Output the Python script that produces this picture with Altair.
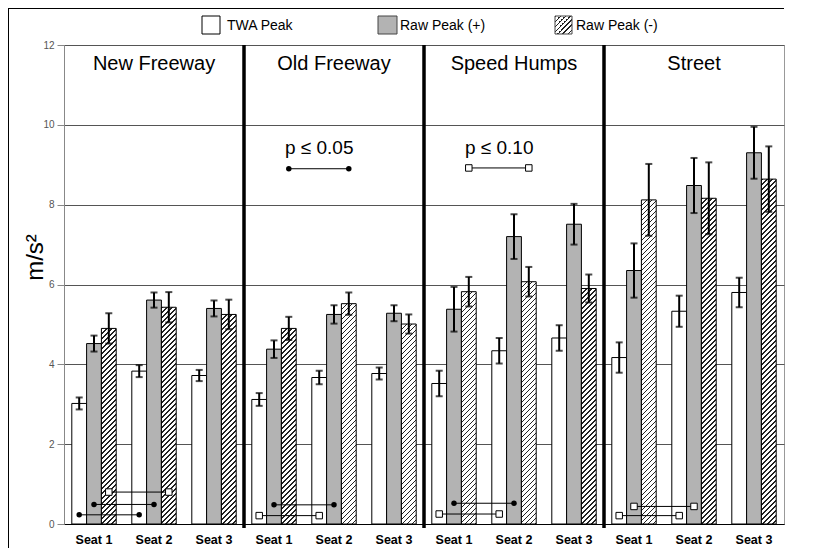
import altair as alt
import pandas as pd

# ---------------- data ----------------
panels = ["New Freeway", "Old Freeway", "Speed Humps", "Street"]
seats = ["Seat 1", "Seat 2", "Seat 3"]
series = ["TWA Peak", "Raw Peak (+)", "Raw Peak (-)"]

twa      = [3.02, 3.83, 3.72, 3.12, 3.67, 3.77, 3.52, 4.34, 4.66, 4.17, 5.33, 5.80]
twa_err  = [0.15, 0.15, 0.14, 0.16, 0.17, 0.15, 0.32, 0.32, 0.32, 0.38, 0.39, 0.37]
rawp     = [4.52, 5.61, 5.40, 4.38, 5.25, 5.28, 5.38, 7.20, 7.51, 6.35, 8.48, 9.30]
rawp_err = [0.20, 0.19, 0.20, 0.22, 0.23, 0.20, 0.56, 0.56, 0.51, 0.68, 0.69, 0.65]
rawn     = [4.90, 5.43, 5.25, 4.90, 5.52, 5.01, 5.82, 6.07, 5.90, 8.12, 8.16, 8.64]
rawn_err = [0.38, 0.38, 0.37, 0.29, 0.28, 0.24, 0.37, 0.37, 0.35, 0.90, 0.90, 0.82]

# significance brackets: (id, panel, series, y, marker) spanning Seat 1 -> Seat 2
br_id     = ["nf1", "nf2", "nf3", "of1", "of2", "sh1", "sh2", "st1", "st2", "oft", "sht"]
br_panel  = ["New Freeway", "New Freeway", "New Freeway", "Old Freeway", "Old Freeway",
             "Speed Humps", "Speed Humps", "Street", "Street", "Old Freeway", "Speed Humps"]
br_series = ["Raw Peak (-)", "Raw Peak (+)", "TWA Peak", "Raw Peak (+)", "TWA Peak",
             "Raw Peak (+)", "TWA Peak", "Raw Peak (+)", "TWA Peak", "Raw Peak (-)", "Raw Peak (-)"]
br_y      = [0.80, 0.49, 0.23, 0.48, 0.21, 0.52, 0.25, 0.44, 0.21, 8.90, 8.92]
br_marker = ["square", "dot", "dot", "dot", "square", "dot", "square", "square", "square", "dot", "square"]

ptext_panel = ["Old Freeway", "Speed Humps"]
ptext_label = ["p ≤ 0.05", "p ≤ 0.10"]
ptext_y = [9.26, 9.26]
title_y = 11.37
y_ticks = [0, 2, 4, 6, 8, 10, 12]

# ---------------- layout constants ----------------
W, H = 720, 479
PX = H / 12.0
P_IN, P_OUT = 0.26, 0.13
step = W / (12 - P_IN + 2 * P_OUT)
BAR_W = step * (1 - P_IN) / 3
FONT = "Liberation Sans"

def hatch(w, h, period=5.0, frac=0.3):
    k = (w + h) / (w * w + h * h)
    n = (w + h) / period
    stops = []
    j = 0
    while j < n:
        a = min(j / n, 1.0)
        b = min((j + frac) / n, 1.0)
        c = min((j + 1) / n, 1.0)
        stops += [{"offset": a, "color": "#222"}, {"offset": b, "color": "#222"},
                  {"offset": b, "color": "white"}, {"offset": c, "color": "white"}]
        j += 1
    return {"gradient": "linear", "x1": 0, "y1": 0, "x2": w * k, "y2": h * k, "stops": stops}

grp_order = [f"{p}|{s}" for p in panels for s in seats]
rows = []
for i, g in enumerate(grp_order):
    for name, vals, errs in [(series[0], twa, twa_err), (series[1], rawp, rawp_err), (series[2], rawn, rawn_err)]:
        rows.append(dict(grp=g, series=name, value=vals[i], lo=vals[i] - errs[i], hi=vals[i] + errs[i]))
df = pd.DataFrame(rows)

br_rows = []
for bid, p, s, yv, m in zip(br_id, br_panel, br_series, br_y, br_marker):
    for seat in ["Seat 1", "Seat 2"]:
        br_rows.append(dict(id=bid, grp=f"{p}|{seat}", series=s, value=yv, marker=m))
br = pd.DataFrame(br_rows)

titles = pd.DataFrame({"grp": [f"{p}|Seat 2" for p in panels], "label": panels, "value": [title_y] * 4})
ptext = pd.DataFrame({"grp": [f"{p}|Seat 2" for p in ptext_panel], "series": ["TWA Peak"] * 2,
                      "label": ptext_label, "value": ptext_y})

X = alt.X("grp:N", sort=grp_order, title=None,
          scale=alt.Scale(domain=grp_order, paddingInner=P_IN, paddingOuter=P_OUT),
          axis=alt.Axis(labelExpr="split(datum.label, '|')[1]", labelAngle=0))
XO = alt.XOffset("series:N", sort=series, scale=alt.Scale(domain=series, paddingInner=0, paddingOuter=0))
YS = alt.Scale(domain=[0, 12], nice=False)
YT = "m/s²"
YA = alt.Axis(values=y_ticks)

def Y(field):
    return alt.Y(field, scale=YS, title=YT, axis=YA)

base = alt.Chart(df)

bars_tp = base.transform_filter(alt.datum.series != "Raw Peak (-)").mark_bar(
    stroke="black", strokeWidth=1).encode(
    x=X, xOffset=XO, y=Y("value:Q"),
    fill=alt.Fill("series:N", scale=alt.Scale(domain=series[:2], range=["white", "#b3b3b3"]), legend=None))

hatched = []
for i, g in enumerate(grp_order):
    h = rawn[i] * PX
    hatched.append(
        base.transform_filter((alt.datum.series == "Raw Peak (-)") & (alt.datum.grp == g))
        .mark_bar(fill=hatch(BAR_W, h), stroke="black", strokeWidth=1)
        .encode(x=X, xOffset=XO, y=Y("value:Q")))

err = base.mark_rule(color="black", strokeWidth=2).encode(
    x=X, xOffset=XO, y=Y("lo:Q"), y2="hi:Q")
cap_lo = base.mark_tick(color="black", thickness=2, size=7, orient="horizontal").encode(
    x=X, xOffset=XO, y=Y("lo:Q"))
cap_hi = base.mark_tick(color="black", thickness=2, size=7, orient="horizontal").encode(
    x=X, xOffset=XO, y=Y("hi:Q"))

br_line = alt.Chart(br).mark_line(color="black", strokeWidth=1).encode(
    x=X, xOffset=XO, y=Y("value:Q"), detail="id:N")
br_sq = alt.Chart(br).transform_filter(alt.datum.marker == "square").mark_point(
    shape="square", filled=True, fill="white", stroke="black", strokeWidth=1, size=42, opacity=1).encode(
    x=X, xOffset=XO, y=Y("value:Q"))
br_dot = alt.Chart(br).transform_filter(alt.datum.marker == "dot").mark_circle(
    color="black", size=30, opacity=1).encode(
    x=X, xOffset=XO, y=Y("value:Q"))

ttl = alt.Chart(titles).mark_text(fontSize=20, font=FONT, baseline="alphabetic", align="center",
                                  color="black").encode(
    x=X, y=Y("value:Q"), text="label:N")
ptx = alt.Chart(ptext).mark_text(fontSize=19, font=FONT, baseline="alphabetic", align="center",
                                 color="black").encode(
    x=X, xOffset=XO, y=Y("value:Q"), text="label:N")

main = alt.layer(bars_tp, *hatched, err, cap_lo, cap_hi, br_line, br_sq, br_dot, ttl, ptx)

# ---------------- decorations ----------------
one = pd.DataFrame({"a": [0]})
div = alt.Chart(pd.DataFrame({"b": [1, 2, 3]})).mark_rule(color="black", strokeWidth=3.5).encode(
    x=alt.X("b:Q", scale=alt.Scale(domain=[0, 4]), axis=None),
    y=alt.value(0), y2=alt.value(H + 4))

leg_twa = alt.Chart(one).mark_rect(fill="white", stroke="black", strokeWidth=1).encode(
    x=alt.value(138), x2=alt.value(156), y=alt.value(-29), y2=alt.value(-11))
leg_rp = alt.Chart(one).mark_rect(fill="#b3b3b3", stroke="#444", strokeWidth=1).encode(
    x=alt.value(314), x2=alt.value(333), y=alt.value(-29), y2=alt.value(-11))
leg_rn = alt.Chart(one).mark_rect(fill=hatch(17, 18, period=5.0), stroke="#444", strokeWidth=1).encode(
    x=alt.value(491), x2=alt.value(508), y=alt.value(-29), y2=alt.value(-11))
leg_txt = [
    alt.Chart(one).mark_text(fontSize=14, font=FONT, align="left", baseline="alphabetic", color="black").encode(
        x=alt.value(lx), y=alt.value(-15), text=alt.value(t))
    for lx, t in zip([163, 336, 512], series)
]
border_l = alt.Chart(one).mark_rect(fill="black", strokeWidth=0).encode(
    x=alt.value(-56), x2=alt.value(-55), y=alt.value(-37), y2=alt.value(H + 40))
border_t = alt.Chart(one).mark_rect(fill="black", strokeWidth=0).encode(
    x=alt.value(-56), x2=alt.value(W), y=alt.value(-37), y2=alt.value(-36))

deco = alt.layer(div, leg_twa, leg_rp, leg_rn, *leg_txt, border_l, border_t)

chart = alt.layer(main, deco).resolve_scale(x="independent").properties(
    width=W, height=H,
    padding={"left": 56, "top": 37, "right": 20, "bottom": 24},
    autosize=alt.AutoSizeParams(type="none"),
).configure(font=FONT).configure_view(stroke="#999", strokeWidth=1).configure_axisX(
    labelFont=FONT, labelFontWeight="bold", labelFontSize=12.5, labelColor="black",
    ticks=False, domainColor="black", domainWidth=1, labelPadding=9, grid=False,
).configure_axisY(
    labelFont=FONT, labelFontSize=10, labelColor="#555",
    tickColor="#888", tickSize=7, domainColor="#888", labelPadding=3,
    grid=True, gridColor="#555", gridWidth=1,
    titleFont=FONT, titleFontSize=24, titleFontWeight="normal", titleColor="black",
    titleAngle=270, titleX=-22, titleY=212, titleAlign="center", titleBaseline="alphabetic",
)

chart.save("out.html", embed_options={"renderer": "svg", "actions": False})
